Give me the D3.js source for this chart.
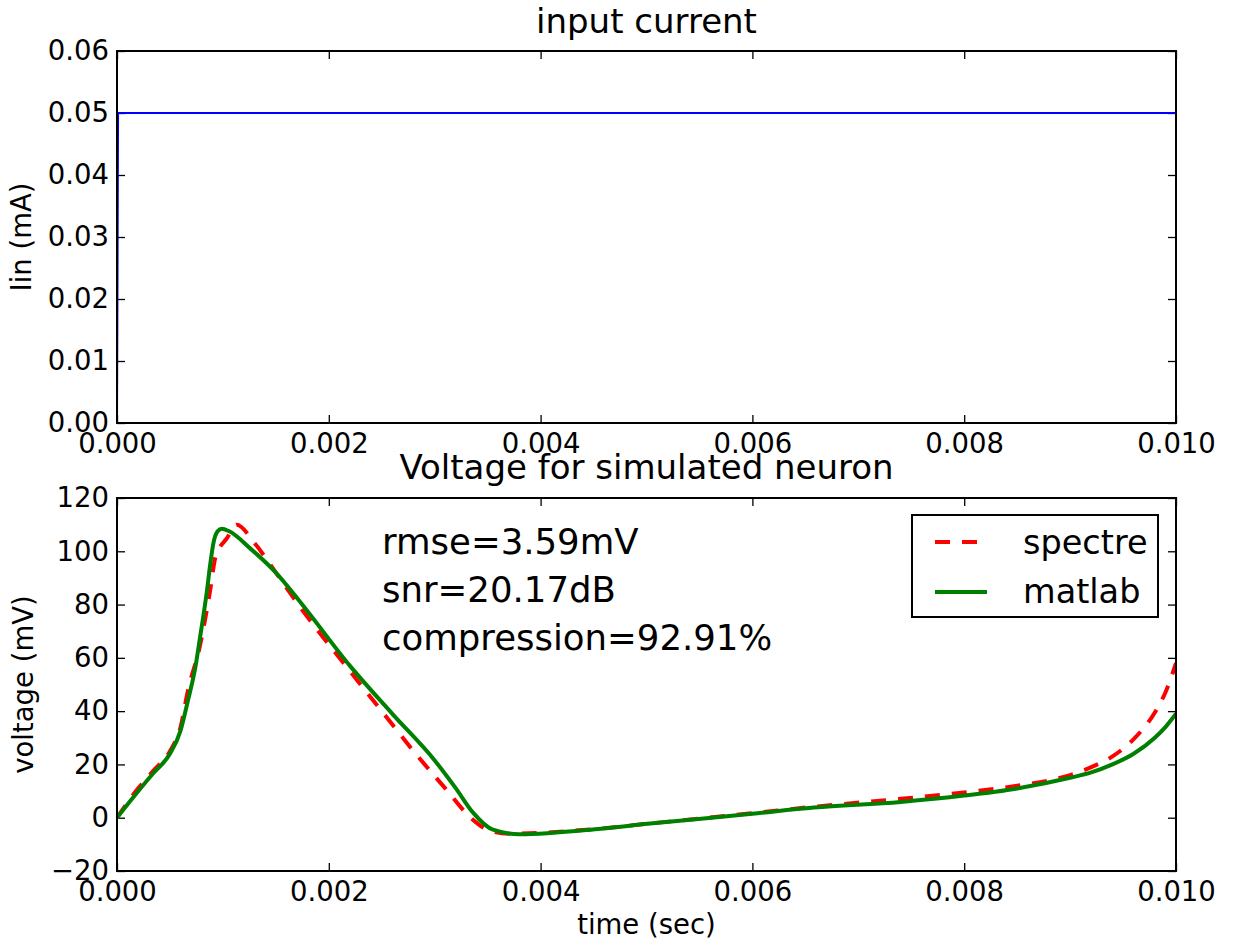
<!DOCTYPE html>
<html>
<head>
<meta charset="utf-8">
<script src="https://cdn.jsdelivr.net/npm/d3@7"></script>
<style>
  html, body { margin: 0; padding: 0; background: #fff; }
  svg { display: block; font-family: "DejaVu Sans", sans-serif; }
</style>
</head>
<body>
<svg id="chart" width="1239" height="945"></svg>
<script>
// ---- data ----
const currentTime = [0, 0.00001, 0.01];
const currentValue = [0, 0.05, 0.05];

const matlabTime = [0, 0.00015, 0.00034, 0.0005, 0.0006, 0.00067, 0.00074, 0.00078, 0.00085, 0.00088, 0.00091, 0.00095, 0.00099, 0.00106, 0.00126, 0.0015, 0.00173, 0.0022, 0.0026, 0.003, 0.0032, 0.00336, 0.00355, 0.0038, 0.00457, 0.00501, 0.006, 0.00658, 0.0074, 0.008, 0.0085, 0.009, 0.0092, 0.0094, 0.0096, 0.0098, 0.0099, 0.01];
const matlabVolt = [0, 7.5, 16.6, 24, 32.7, 44, 56.5, 66.6, 85.4, 95, 103, 107.5, 108.5, 107.5, 101, 92, 81, 57, 39, 21.5, 11, 2, -4.5, -6.2, -4.1, -2.3, 1.5, 3.8, 5.9, 8.3, 11, 15, 17, 20, 24, 30, 34, 39];

const spectreTime = [0, 0.00015, 0.00034, 0.0005, 0.0006, 0.00067, 0.00078, 0.00088, 0.00093, 0.00104, 0.00113, 0.0013, 0.0015, 0.00173, 0.0021, 0.0025, 0.0028, 0.0031, 0.00334, 0.0035, 0.0037, 0.0045, 0.005, 0.006, 0.0066, 0.0074, 0.008, 0.0085, 0.0088, 0.009, 0.0092, 0.0094, 0.0096, 0.0098, 0.0099, 0.01];
const spectreVolt = [0, 8.5, 17.5, 25, 34, 47.8, 64, 85.4, 97.9, 105, 110, 103, 92, 79, 60, 40, 25, 11, 0, -4.5, -6, -4.3, -2.3, 1.7, 4.2, 7.1, 9.5, 12, 14, 16, 19, 23, 29.5, 39.5, 47, 58];

const xTicks = [0, 0.002, 0.004, 0.006, 0.008, 0.010];
const currentTicks = [0, 0.01, 0.02, 0.03, 0.04, 0.05, 0.06];
const voltTicks = [-20, 0, 20, 40, 60, 80, 100, 120];

const titleTop = "input current";
const titleBottom = "Voltage for simulated neuron";
const yLabelTop = "Iin (mA)";
const yLabelBottom = "voltage (mV)";
const xLabelBottom = "time (sec)";
const annotations = ["rmse=3.59mV", "snr=20.17dB", "compression=92.91%"];
const legendNames = ["spectre", "matlab"];

// ---- layout ----
const svg = d3.select("#chart");
const L = 117, R = 1176;
const top1 = 51, bot1 = 423;
const top2 = 498, bot2 = 871;
const tickFont = 27.5;
const dash = "15,12";

const x = d3.scaleLinear().domain([0, 0.01]).range([L, R]);
const y1 = d3.scaleLinear().domain([0, 0.06]).range([bot1, top1]);
const y2 = d3.scaleLinear().domain([-20, 120]).range([bot2, top2]);

function frame(yScale, yTicks, yFmt, top, bot, clipId) {
  const g = svg.append("g");
  g.append("clipPath").attr("id", clipId).append("rect")
    .attr("x", L).attr("y", top).attr("width", R - L).attr("height", bot - top);
  g.append("g").attr("transform", `translate(0,${bot})`)
    .call(d3.axisBottom(x).tickValues(xTicks).tickFormat(d3.format(".3f")).tickSize(-8).tickPadding(10));
  g.append("g").attr("transform", `translate(0,${top})`)
    .call(d3.axisTop(x).tickValues(xTicks).tickFormat("").tickSize(-8));
  g.append("g").attr("transform", `translate(${L},0)`)
    .call(d3.axisLeft(yScale).tickValues(yTicks).tickFormat(yFmt).tickSize(-8).tickPadding(8));
  g.append("g").attr("transform", `translate(${R},0)`)
    .call(d3.axisRight(yScale).tickValues(yTicks).tickFormat("").tickSize(-8));
  g.selectAll(".domain").remove();
  g.selectAll(".tick line").attr("stroke", "#000").attr("stroke-width", 1.3);
  g.selectAll(".tick text").attr("font-size", tickFont).attr("fill", "#000")
    .attr("font-family", "DejaVu Sans");
  return g;
}

// ---- top panel ----
frame(y1, currentTicks, d3.format(".2f"), top1, bot1, "clip1");
const lineCur = d3.line().x((d, i) => x(currentTime[i])).y(d => y1(d));
svg.append("path").datum(currentValue)
  .attr("d", lineCur).attr("fill", "none").attr("stroke", "#0000ff").attr("stroke-width", 2)
  .attr("clip-path", "url(#clip1)");
svg.append("rect").attr("x", L).attr("y", top1).attr("width", R - L).attr("height", bot1 - top1)
  .attr("fill", "none").attr("stroke", "#000").attr("stroke-width", 2);
svg.append("text").attr("x", (L + R) / 2).attr("y", 33).attr("text-anchor", "middle")
  .attr("font-size", 34).text(titleTop);
svg.append("text").attr("transform", `translate(31,${(top1 + bot1) / 2}) rotate(-90)`)
  .attr("text-anchor", "middle").attr("font-size", tickFont).text(yLabelTop);

// ---- bottom panel ----
frame(y2, voltTicks, d3.format("d"), top2, bot2, "clip2");
const lineS = d3.line().curve(d3.curveMonotoneX).x((d, i) => x(spectreTime[i])).y(d => y2(d));
const lineM = d3.line().curve(d3.curveMonotoneX).x((d, i) => x(matlabTime[i])).y(d => y2(d));
svg.append("path").datum(spectreVolt).attr("d", lineS).attr("fill", "none")
  .attr("stroke", "#ff0000").attr("stroke-width", 4).attr("stroke-dasharray", dash)
  .attr("clip-path", "url(#clip2)");
svg.append("path").datum(matlabVolt).attr("d", lineM).attr("fill", "none")
  .attr("stroke", "#008000").attr("stroke-width", 4)
  .attr("clip-path", "url(#clip2)");
svg.append("rect").attr("x", L).attr("y", top2).attr("width", R - L).attr("height", bot2 - top2)
  .attr("fill", "none").attr("stroke", "#000").attr("stroke-width", 2);
svg.append("text").attr("x", (L + R) / 2).attr("y", 479).attr("text-anchor", "middle")
  .attr("font-size", 34).text(titleBottom);
svg.append("text").attr("transform", `translate(33,${(top2 + bot2) / 2}) rotate(-90)`)
  .attr("text-anchor", "middle").attr("font-size", tickFont).text(yLabelBottom);
svg.append("text").attr("x", (L + R) / 2).attr("y", 934).attr("text-anchor", "middle")
  .attr("font-size", tickFont).text(xLabelBottom);

// annotations
svg.selectAll("text.ann").data(annotations).enter().append("text").attr("class", "ann")
  .attr("x", 382).attr("y", (d, i) => 554 + i * 48).attr("font-size", 35.5).text(d => d);

// legend
const lg = svg.append("g");
lg.append("rect").attr("x", 912).attr("y", 515).attr("width", 246).attr("height", 102)
  .attr("fill", "#fff").attr("stroke", "#000").attr("stroke-width", 2);
const legStyles = [
  { color: "#ff0000", dash: dash, y: 542, ty: 554 },
  { color: "#008000", dash: null, y: 592, ty: 603 }
];
legendNames.forEach((name, i) => {
  const s = legStyles[i];
  lg.append("line").attr("x1", 935).attr("x2", 987).attr("y1", s.y).attr("y2", s.y)
    .attr("stroke", s.color).attr("stroke-width", 4).attr("stroke-dasharray", s.dash);
  lg.append("text").attr("x", 1023).attr("y", s.ty).attr("font-size", 33.5).text(name);
});
</script>
</body>
</html>
